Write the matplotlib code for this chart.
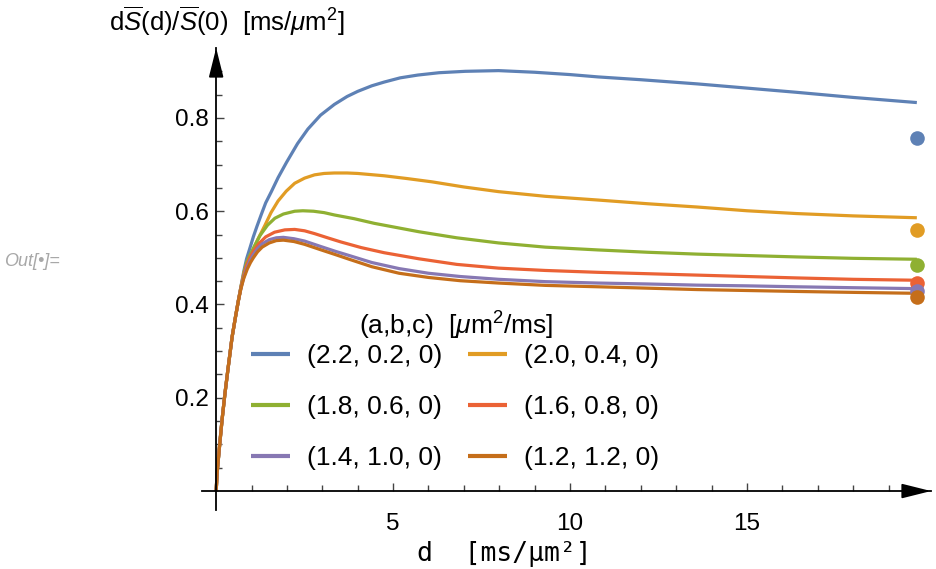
import matplotlib
matplotlib.use("Agg")
import matplotlib.pyplot as plt
from matplotlib.ticker import FixedLocator

plt.rcParams['font.family'] = ['Liberation Sans', 'DejaVu Sans']
plt.rcParams['mathtext.fontset'] = 'custom'
plt.rcParams['mathtext.rm'] = 'Liberation Sans'
plt.rcParams['mathtext.it'] = 'Liberation Sans:italic'
plt.rcParams['mathtext.bf'] = 'Liberation Sans:bold'

# ---- data ----
labels = ["(2.2, 0.2, 0)", "(2.0, 0.4, 0)", "(1.8, 0.6, 0)",
          "(1.6, 0.8, 0)", "(1.4, 1.0, 0)", "(1.2, 1.2, 0)"]
colors = ["#5E81B5", "#E19C24", "#8FB032", "#EB6235", "#8778B3", "#C56E1A"]

# shared initial rise (all curves overlap here)
rise_d = [0.0, 0.02, 0.04, 0.10, 0.17, 0.25, 0.34, 0.45, 0.55, 0.63]
rise_y = [0.0, 0.028, 0.050, 0.100, 0.155, 0.210, 0.265, 0.330, 0.375, 0.409]

blue_d = [0.70, 0.78, 0.86, 0.95, 1.05, 1.15, 1.28, 1.40, 1.56, 1.75, 1.99, 2.3, 2.59, 2.95, 3.34, 3.7,
          4.0, 4.4, 4.75, 5.2, 5.7, 6.3, 7.04, 7.98, 9.0, 10.0, 10.79, 12.0, 13.6, 15.0, 16.4, 18.0, 19.8]
blue_y = [0.438, 0.471, 0.498, 0.520, 0.545, 0.567, 0.594, 0.618, 0.642, 0.672, 0.705, 0.745, 0.776, 0.806,
          0.829, 0.846, 0.857, 0.869, 0.877, 0.886, 0.892, 0.897, 0.900, 0.9015, 0.898, 0.893, 0.888, 0.882,
          0.873, 0.864, 0.855, 0.844, 0.833]

orange_d = [0.70, 0.79, 0.88, 0.955, 1.06, 1.18, 1.38, 1.55, 1.75, 1.98, 2.22, 2.5, 2.78, 3.05, 3.34, 3.7,
            4.0, 4.75, 5.4, 6.1, 7.0, 7.98, 9.3, 10.79, 12.2, 13.6, 15.0, 16.4, 18.0, 19.8]
orange_y = [0.438, 0.470, 0.490, 0.502, 0.520, 0.540, 0.570, 0.597, 0.622, 0.643, 0.660, 0.671, 0.678, 0.681,
            0.682, 0.682, 0.681, 0.676, 0.670, 0.663, 0.652, 0.642, 0.632, 0.624, 0.616, 0.609, 0.601, 0.595,
            0.590, 0.586]

green_d = [0.70, 0.78, 0.86, 0.95, 1.10, 1.24, 1.45, 1.66, 1.9, 2.22, 2.45, 2.75, 3.05, 3.34, 3.9, 4.47,
           5.1, 5.73, 6.8, 7.98, 9.3, 10.79, 12.2, 13.6, 15.0, 16.4, 18.0, 19.8]
green_y = [0.437, 0.465, 0.490, 0.505, 0.528, 0.548, 0.570, 0.585, 0.594, 0.600, 0.601, 0.600, 0.597, 0.592,
           0.584, 0.574, 0.565, 0.556, 0.543, 0.532, 0.523, 0.517, 0.512, 0.508, 0.505, 0.502, 0.499, 0.497]

red_d = [0.70, 0.78, 0.86, 0.95, 1.05, 1.2, 1.40, 1.65, 1.94, 2.22, 2.5, 2.78, 3.15, 3.53, 4.1, 4.75,
         5.73, 6.8, 7.98, 9.3, 10.79, 12.2, 13.6, 15.0, 16.4, 18.0, 19.8]
red_y = [0.436, 0.462, 0.484, 0.500, 0.514, 0.530, 0.545, 0.555, 0.560, 0.561, 0.558, 0.552, 0.543, 0.534,
         0.522, 0.511, 0.498, 0.486, 0.478, 0.473, 0.469, 0.466, 0.463, 0.460, 0.457, 0.454, 0.452]

purple_d = [0.70, 0.78, 0.86, 0.95, 1.05, 1.17, 1.30, 1.5, 1.7, 1.9, 2.2, 2.5, 2.97, 3.37, 3.76, 4.4,
            5.17, 6.0, 6.9, 7.98, 9.3, 10.79, 12.2, 13.6, 15.0, 16.4, 18.0, 19.8]
purple_y = [0.435, 0.458, 0.477, 0.493, 0.507, 0.520, 0.530, 0.539, 0.543, 0.544, 0.541, 0.536, 0.524, 0.514,
            0.505, 0.490, 0.477, 0.467, 0.460, 0.454, 0.449, 0.446, 0.444, 0.4415, 0.440, 0.438, 0.436, 0.434]

brown_d = [0.70, 0.78, 0.88, 0.97, 1.05, 1.17, 1.30, 1.5, 1.7, 1.9, 2.2, 2.5, 2.97, 3.37, 3.76, 4.4,
           5.17, 6.0, 6.9, 7.98, 9.3, 10.79, 12.2, 13.6, 15.0, 16.4, 18.0, 19.8]
brown_y = [0.434, 0.456, 0.476, 0.490, 0.500, 0.513, 0.523, 0.532, 0.537, 0.538, 0.535, 0.529, 0.517, 0.507,
           0.497, 0.481, 0.467, 0.458, 0.451, 0.446, 0.441, 0.438, 0.435, 0.432, 0.430, 0.428, 0.426, 0.424]

dot_d = 19.8
dot_y = [0.758, 0.5595, 0.485, 0.447, 0.429, 0.4165]

series_d = [blue_d, orange_d, green_d, red_d, purple_d, brown_d]
series_y = [blue_y, orange_y, green_y, red_y, purple_y, brown_y]

x_major = [5, 10, 15]
y_major = [0.2, 0.4, 0.6, 0.8]

# ---- figure ----
W, H = 936, 569
fig = plt.figure(figsize=(W / 100, H / 100), dpi=100)
left_px, right_px, top_px, bottom_px = 202, 931, 48, 509.7
ax = fig.add_axes([left_px / W, 1 - bottom_px / H, (right_px - left_px) / W, (bottom_px - top_px) / H])
ax.set_xlim(-0.4, 20.2)
ax.set_ylim(-0.04, 0.95)

handles = []
for d, y, c, lab in zip(series_d, series_y, colors, labels):
    h, = ax.plot(rise_d + d, rise_y + y, color=c, lw=2.3, solid_capstyle='butt',
                 solid_joinstyle='round', label=lab, clip_on=False)
    handles.append(h)
for c, yv in zip(colors, dot_y):
    ax.plot([dot_d], [yv], 'o', color=c, ms=10.5, mec='none', clip_on=False)

# axes through origin
for s in ['top', 'right']:
    ax.spines[s].set_visible(False)
ax.spines['left'].set_position(('data', 0))
ax.spines['bottom'].set_position(('data', 0))
for s in ['left', 'bottom']:
    ax.spines[s].set_linewidth(1.3)
    ax.spines[s].set_color('black')

ax.annotate('', xy=(20.2, 0), xytext=(19.4, 0), xycoords='data',
            arrowprops=dict(arrowstyle='-|>,head_length=1.8,head_width=0.45',
                            mutation_scale=10, color='black', lw=1.3, shrinkA=0, shrinkB=0),
            annotation_clip=False)
ax.annotate('', xy=(0, 0.95), xytext=(0, 0.90), xycoords='data',
            arrowprops=dict(arrowstyle='-|>,head_length=1.8,head_width=0.45',
                            mutation_scale=10, color='black', lw=1.3, shrinkA=0, shrinkB=0),
            annotation_clip=False)

ax.xaxis.set_major_locator(FixedLocator(x_major))
ax.xaxis.set_minor_locator(FixedLocator([v for v in range(1, 20) if v not in x_major]))
ax.yaxis.set_major_locator(FixedLocator(y_major))
ax.yaxis.set_minor_locator(FixedLocator([round(0.05 * k, 2) for k in range(1, 19) if k % 4 != 0]))
ax.set_xticklabels([str(v) for v in x_major])
ax.set_yticklabels([f"{v:.1f}" for v in y_major])
ax.tick_params(axis='both', which='major', direction='in', length=6, width=1.0, color='#444444', labelsize=17.5)
ax.tick_params(axis='both', which='minor', direction='in', length=4, width=1.0, color='#444444')
ax.tick_params(axis='x', which='major', pad=16)
ax.tick_params(axis='y', which='major', pad=5)

# labels
fig.text(227 / W, 1 - 21 / H, r'd$\overline{S}$(d)/$\overline{S}$(0)  [ms/$\mu$m$^2$]',
         ha='center', va='center', fontsize=18.5)
fig.text(504 / W, 1 - 554 / H, 'd  [ms/μm²]', family=['DejaVu Sans Mono'],
         ha='center', va='center', fontsize=19)
fig.text(4 / W, 1 - 262 / H, 'Out[•]=', color='#A8A8A8', style='italic',
         ha='left', va='center', fontsize=13)

# legend (row-wise order as in the reference)
fig.text(456 / W, 1 - 326 / H, r'(a,b,c)  [$\mu$m$^2$/ms]', ha='center', va='center', fontsize=19)
order = [0, 2, 4, 1, 3, 5]
leg = ax.legend(handles=[handles[i] for i in order], ncol=2, frameon=False, fontsize=19,
                loc='upper left', bbox_to_anchor=(251 / W, 1 - 344 / H),
                bbox_transform=fig.transFigure, borderpad=0, borderaxespad=0,
                handlelength=1.48, handletextpad=0.64, columnspacing=0.98,
                labelspacing=1.03)
for lh in leg.get_lines():
    lh.set_linewidth(3)

fig.savefig('out.png', dpi=100)
